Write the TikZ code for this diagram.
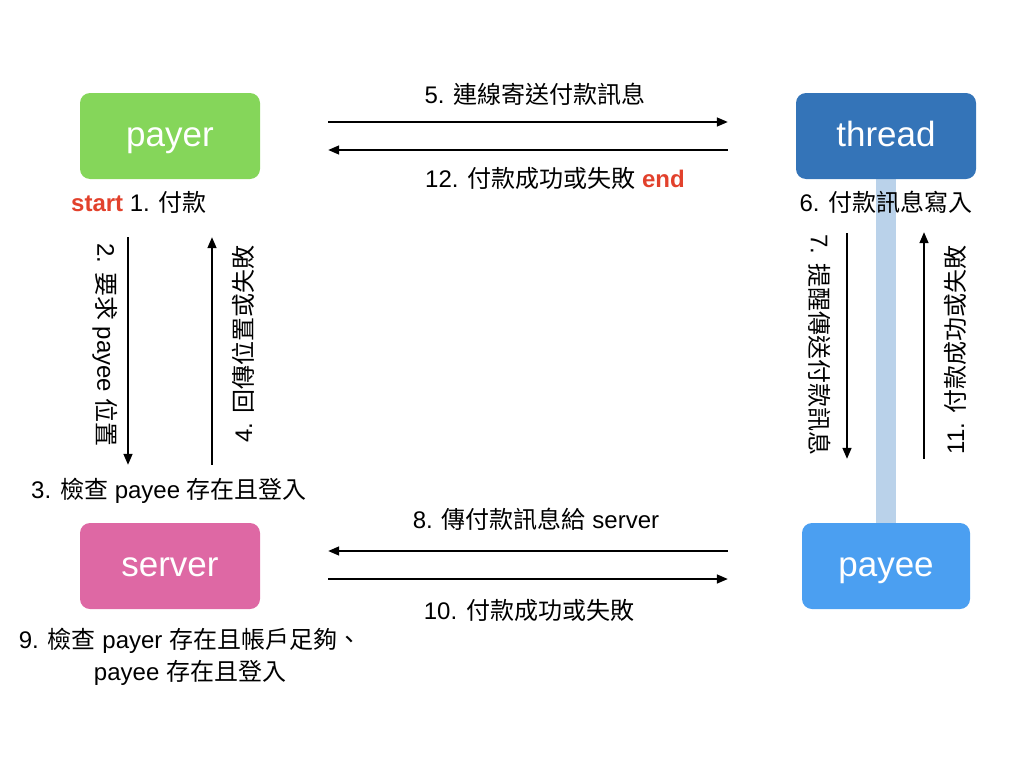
\documentclass[tikz,border=0pt]{standalone}
\usepackage{fontspec}
\setmainfont{Liberation Sans}
\newfontfamily\cjk{Noto Sans CJK TC}
\usetikzlibrary{arrows.meta}

\definecolor{payergreen}{HTML}{85D65A}
\definecolor{threadblue}{HTML}{3474B8}
\definecolor{serverpink}{HTML}{DE68A4}
\definecolor{payeeblue}{HTML}{4B9FF1}
\definecolor{barblue}{HTML}{BAD2EA}
\definecolor{markred}{HTML}{E2412C}

\tikzset{
    actor/.style={rounded corners=10pt, minimum width=180pt, minimum height=86pt,
        text=white, font=\fontsize{35}{40}\selectfont,
        text height=25pt, text depth=4pt},
    msg/.style={inner sep=0pt, font=\fontsize{24}{29}\selectfont},
    flow/.style={line width=1.6pt, -{Triangle[length=11pt,width=9pt]}}
}

\begin{document}
\begin{tikzpicture}[x=1pt, y=-1pt]
    % canvas
    \useasboundingbox (0,0) rectangle (1024,768);

    % the link between thread and payee
    \fill[barblue] (876,179) rectangle (896,523);

    % the four parties
    \node[actor, fill=payergreen] (payer) at (170,136) {payer};
    \node[actor, fill=threadblue] (thread) at (886,136) {thread};
    \node[actor, fill=serverpink] (server) at (170,566) {server};
    \node[actor, fill=payeeblue, minimum width=168pt] (payee) at (886,566) {payee};

    % payer <-> thread
    \draw[flow, shorten <=68pt, shorten >=68pt] ([yshift=14pt]payer.east) -- ([yshift=14pt]thread.west);
    \draw[flow, shorten <=68pt, shorten >=68pt] ([yshift=-14pt]thread.west) -- ([yshift=-14pt]payer.east);
    \node[msg] (l5) at (535,94) {5. {\cjk 連線寄送付款訊息}};
    \node[msg] (l12) at (555,178) {12. {\cjk 付款成功或失敗} {\color{markred}\bfseries end}};

    % payer <-> server
    \draw[flow, shorten <=58pt, shorten >=58pt] ([xshift=-42pt]payer.south) -- ([xshift=-42pt]server.north);
    \draw[flow, shorten <=58pt, shorten >=58pt] ([xshift=42pt]server.north) -- ([xshift=42pt]payer.south);
    \node[msg, rotate=-90] (l2) at (105,345) {2. {\cjk 要求} payee {\cjk 位置}};
    \node[msg, rotate=90] (l4) at (243,344) {4. {\cjk 回傳位置或失敗}};

    % thread <-> payee
    \draw[flow, shorten <=54pt, shorten >=64pt] ([xshift=-39pt]thread.south) -- ([xshift=-39pt]payee.north);
    \draw[flow, shorten <=64pt, shorten >=53pt] ([xshift=38pt]payee.north) -- ([xshift=38pt]thread.south);
    \node[msg, rotate=-90] (l7) at (820,345) {7. {\cjk 提醒傳送付款訊息}};
    \node[msg, rotate=90] (l11) at (955,350) {11. {\cjk 付款成功或失敗}};

    % payee <-> server
    \draw[flow, shorten <=74pt, shorten >=68pt] ([yshift=15pt]payee.west) -- ([yshift=15pt]server.east);
    \draw[flow, shorten <=68pt, shorten >=74pt] ([yshift=-13pt]server.east) -- ([yshift=-13pt]payee.west);
    \node[msg] (l8) at (536,519) {8. {\cjk 傳付款訊息給} server};
    \node[msg] (l10) at (529,610) {10. {\cjk 付款成功或失敗}};

    % notes under the boxes
    \node[msg] (l1) at (139,202) {{\color{markred}\bfseries start} 1. {\cjk 付款}};
    \node[msg] (l6) at (886,202) {6. {\cjk 付款訊息寫入}};
    \node[msg] (l3) at (169,491) {3. {\cjk 檢查} payee {\cjk 存在且登入}};
    \node[msg, align=center] (l9) at (190,657) {9. {\cjk 檢查} payer {\cjk 存在且帳戶足夠、}\\[3pt] payee {\cjk 存在且登入}};
\end{tikzpicture}
\end{document}
